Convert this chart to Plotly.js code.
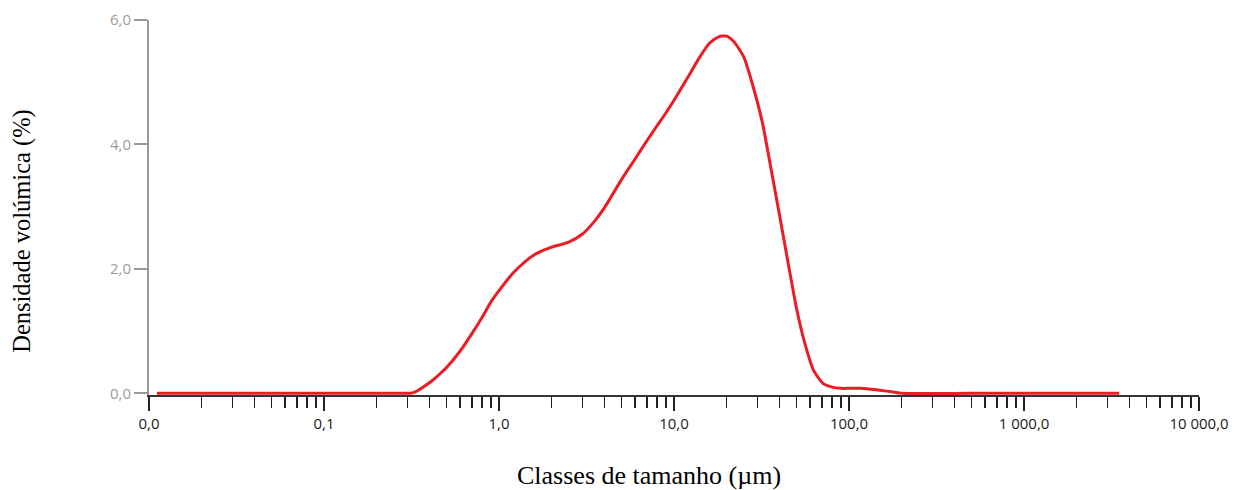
<!DOCTYPE html>
<html>
<head>
<meta charset="utf-8">
<script src="https://cdn.plot.ly/plotly-3.0.1.min.js"></script>
<style>
  html, body { margin: 0; padding: 0; background: #ffffff; }
  #chart { width: 1234px; height: 490px; }
</style>
</head>
<body>
<div id="chart"></div>
<script>
// Particle size classes (µm) and volume density (%)
const sizes = [0.0111, 0.1, 0.3, 0.31, 0.33, 0.4, 0.45, 0.5, 0.6, 0.7, 0.8, 0.9, 1.0,
  1.2, 1.4, 1.6, 1.8, 2.0, 2.5, 3.0, 3.5, 4, 5, 6, 7, 8, 9, 10,
  12, 14, 16, 18, 20, 22, 25, 28, 32, 36, 40, 45, 50, 56, 63, 71, 80, 90,
  100, 115, 130, 150, 180, 200, 500, 1000, 3500];
const density = [0, 0, 0, 0, 0.02, 0.17, 0.29, 0.41, 0.68, 0.96, 1.22, 1.47, 1.65,
  1.93, 2.11, 2.23, 2.30, 2.35, 2.43, 2.56, 2.76, 2.98, 3.43, 3.77, 4.06, 4.30, 4.51, 4.71,
  5.08, 5.40, 5.63, 5.73, 5.74, 5.65, 5.41, 4.98, 4.35, 3.58, 2.88, 2.08, 1.38, 0.80, 0.36, 0.16, 0.10, 0.08,
  0.08, 0.08, 0.07, 0.05, 0.02, 0, 0, 0, 0];

const xMajorVals = [0.01, 0.1, 1, 10, 100, 1000, 10000];
const xMajorText = ["0,0", "0,1", "1,0", "10,0", "100,0", "1 000,0", "10 000,0"];
const xMinorVals = [];
for (let k = -2; k <= 3; k++) {
  for (let m = 2; m <= 9; m++) xMinorVals.push(m * Math.pow(10, k));
}
const yTickVals = [0, 2, 4, 6];
const yTickText = ["0,0", "2,0", "4,0", "6,0"];

const xTitle = "Classes de tamanho (µm)";
const yTitle = "Densidade volúmica (%)";

const trace = {
  x: sizes,
  y: density,
  type: "scatter",
  mode: "lines",
  line: { color: "#ec1c24", width: 3, shape: "spline", smoothing: 0.6 },
  hoverinfo: "skip"
};

const layout = {
  width: 1234,
  height: 490,
  margin: { l: 149, r: 35, t: 20, b: 95 },
  paper_bgcolor: "#ffffff",
  plot_bgcolor: "#ffffff",
  showlegend: false,
  xaxis: {
    type: "log",
    range: [-2, 4],
    tickmode: "array",
    tickvals: xMajorVals,
    ticktext: xMajorText,
    ticks: "outside",
    ticklen: 14,
    tickwidth: 1.5,
    tickcolor: "#222222",
    showline: true,
    linecolor: "#333333",
    linewidth: 1.5,
    showgrid: false,
    zeroline: false,
    tickfont: { family: "Open Sans, sans-serif", size: 15, color: "#1a1a1a" },
    minor: {
      tickmode: "array",
      tickvals: xMinorVals,
      ticks: "outside",
      ticklen: 11,
      tickwidth: 1.5,
      tickcolor: "#222222",
      showgrid: false
    }
  },
  yaxis: {
    range: [-0.027, 6],
    tickmode: "array",
    tickvals: yTickVals,
    ticktext: yTickText,
    ticks: "outside",
    ticklen: 13,
    tickwidth: 2,
    tickcolor: "#999999",
    showline: true,
    linecolor: "#999999",
    linewidth: 2,
    showgrid: false,
    zeroline: false,
    tickfont: { family: "Open Sans, sans-serif", size: 15, color: "#9c9c9c" }
  },
  annotations: [
    {
      text: xTitle,
      xref: "paper", yref: "paper",
      x: 0.476, y: -0.2147,
      xanchor: "center", yanchor: "middle",
      showarrow: false,
      font: { family: "Liberation Serif, Times New Roman, serif", size: 26, color: "#000000" }
    },
    {
      text: yTitle,
      xref: "paper", yref: "paper",
      x: -0.121, y: 0.4377,
      xanchor: "center", yanchor: "middle",
      textangle: -90,
      showarrow: false,
      font: { family: "Liberation Serif, Times New Roman, serif", size: 24.5, color: "#000000" }
    }
  ]
};

Plotly.newPlot("chart", [trace], layout, { displayModeBar: false, staticPlot: true });
</script>
</body>
</html>
